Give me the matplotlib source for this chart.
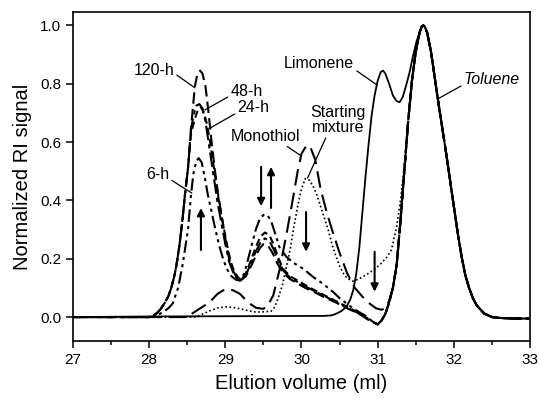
import matplotlib
matplotlib.use("Agg")
import matplotlib.pyplot as plt
from matplotlib.ticker import MultipleLocator, FormatStrFormatter

plt.rcParams["font.family"] = ["Liberation Sans", "DejaVu Sans"]

# shared toluene peak (all traces end on it)
tol_x = [31.00, 31.05, 31.10, 31.15, 31.20, 31.25, 31.30, 31.35, 31.40, 31.45,
         31.50, 31.55, 31.58, 31.60, 31.62, 31.65, 31.70, 31.75, 31.80, 31.85,
         31.90, 31.95, 32.00, 32.05, 32.10, 32.15, 32.20, 32.25, 32.30, 32.40,
         32.50, 32.60, 32.80, 33.00]
tol_y = [-0.025, -0.012, 0.010, 0.050, 0.100, 0.180, 0.330, 0.500, 0.670, 0.810,
         0.910, 0.975, 0.997, 1.000, 0.995, 0.975, 0.910, 0.820, 0.730, 0.645,
         0.560, 0.470, 0.380, 0.290, 0.210, 0.145, 0.100, 0.065, 0.040, 0.012,
         0.000, -0.003, -0.005, -0.005]

# Limonene (solid)
lim_x = [27.0, 28.0, 30.30, 30.40, 30.46, 30.52, 30.59, 30.64, 30.68, 30.72,
         30.76, 30.80, 30.84, 30.88, 30.92, 30.96, 31.00, 31.04, 31.07, 31.10,
         31.15, 31.20, 31.25, 31.29, 31.33, 31.38, 31.42, 31.46, 31.51, 31.55]
lim_y = [0.0, 0.002, 0.004, 0.006, 0.012, 0.020, 0.035, 0.060, 0.093, 0.150,
         0.240, 0.360, 0.480, 0.590, 0.690, 0.760, 0.810, 0.840, 0.845, 0.835,
         0.800, 0.760, 0.740, 0.737, 0.755, 0.800, 0.840, 0.890, 0.945, 0.975]

# Starting mixture (dotted)
mix_x = [27.0, 28.6, 28.7, 28.8, 28.9, 29.0, 29.1, 29.2, 29.3, 29.4, 29.5,
         29.6, 29.65, 29.70, 29.75, 29.80, 29.85, 29.90, 29.95, 30.00, 30.05,
         30.10, 30.15, 30.20, 30.25, 30.30, 30.35, 30.40, 30.45, 30.50, 30.55,
         30.60, 30.67, 30.75, 30.85, 30.95, 31.05, 31.12, 31.18, 31.25, 31.30,
         31.35, 31.40]
mix_y = [0.0, 0.0, 0.010, 0.022, 0.031, 0.035, 0.033, 0.028, 0.022, 0.017, 0.018,
         0.020, 0.035, 0.070, 0.110, 0.170, 0.230, 0.310, 0.380, 0.440, 0.475,
         0.470, 0.450, 0.420, 0.380, 0.340, 0.300, 0.250, 0.210, 0.175, 0.150,
         0.133, 0.123, 0.130, 0.145, 0.162, 0.185, 0.205, 0.230, 0.310, 0.400,
         0.520, 0.670]

# Monothiol (long dash)
mono_x = [27.0, 28.5, 28.57, 28.7, 28.79, 28.9, 29.0, 29.1, 29.19, 29.3, 29.4,
          29.5, 29.56, 29.63, 29.71, 29.80, 29.87, 29.95, 30.00, 30.07, 30.12,
          30.18, 30.25, 30.33, 30.40, 30.50, 30.60, 30.70, 30.80, 30.90, 30.98,
          31.05, 31.10, 31.15]
mono_y = [0.0, 0.0, 0.013, 0.035, 0.050, 0.080, 0.096, 0.092, 0.080, 0.050, 0.032,
          0.028, 0.040, 0.075, 0.160, 0.280, 0.380, 0.500, 0.560, 0.590, 0.580,
          0.540, 0.440, 0.360, 0.300, 0.220, 0.150, 0.100, 0.070, 0.045, 0.030,
          0.025, 0.030, 0.055]

# reaction samples: shared front edge
front_x = [27.0, 28.00, 28.05, 28.10, 28.15, 28.20, 28.25, 28.29, 28.33, 28.36,
           28.40, 28.44, 28.47, 28.51]
front_y = [0.0, 0.0, 0.004, 0.013, 0.027, 0.047, 0.070, 0.100, 0.140, 0.180,
           0.250, 0.340, 0.420, 0.510]

h120_x = [28.55, 28.60, 28.63, 28.67, 28.70, 28.74, 28.78, 28.82, 28.86, 28.90,
          28.95, 29.00, 29.05, 29.10, 29.15, 29.20, 29.27, 29.33, 29.40, 29.45,
          29.50, 29.56, 29.62, 29.68, 29.75, 29.85, 29.95, 30.05, 30.15, 30.30,
          30.45, 30.60, 30.75, 30.90]
h120_y = [0.650, 0.790, 0.830, 0.845, 0.835, 0.790, 0.700, 0.600, 0.510, 0.430,
          0.350, 0.270, 0.200, 0.160, 0.135, 0.125, 0.140, 0.170, 0.210, 0.235,
          0.250, 0.245, 0.220, 0.185, 0.155, 0.130, 0.115, 0.100, 0.088, 0.068,
          0.050, 0.030, 0.012, -0.013]

h48_x = [28.55, 28.58, 28.62, 28.66, 28.70, 28.74, 28.78, 28.82, 28.86, 28.90,
         28.95, 29.00, 29.05, 29.10, 29.15, 29.20, 29.27, 29.33, 29.40, 29.46,
         29.52, 29.58, 29.64, 29.70, 29.76, 29.85, 29.95, 30.05, 30.15, 30.30,
         30.45, 30.60, 30.75, 30.90]
h48_y = [0.640, 0.690, 0.725, 0.730, 0.715, 0.670, 0.600, 0.530, 0.460, 0.390,
         0.320, 0.250, 0.190, 0.155, 0.133, 0.125, 0.145, 0.180, 0.225, 0.255,
         0.270, 0.260, 0.230, 0.190, 0.160, 0.135, 0.120, 0.105, 0.092, 0.072,
         0.052, 0.032, 0.013, -0.012]

h24_x = [28.55, 28.60, 28.64, 28.68, 28.72, 28.76, 28.80, 28.84, 28.88, 28.92,
         28.97, 29.02, 29.07, 29.12, 29.17, 29.21, 29.27, 29.33, 29.40, 29.46,
         29.52, 29.58, 29.64, 29.70, 29.76, 29.85, 29.95, 30.05, 30.15, 30.30,
         30.45, 30.60, 30.75, 30.90]
h24_y = [0.630, 0.680, 0.710, 0.720, 0.700, 0.660, 0.600, 0.530, 0.460, 0.390,
         0.320, 0.250, 0.190, 0.155, 0.135, 0.128, 0.150, 0.190, 0.240, 0.275,
         0.290, 0.280, 0.245, 0.200, 0.165, 0.140, 0.125, 0.110, 0.095, 0.075,
         0.055, 0.035, 0.015, -0.010]

h6_x = [27.0, 28.00, 28.10, 28.20, 28.26, 28.31, 28.38, 28.44, 28.51, 28.55,
        28.58, 28.62, 28.65, 28.69, 28.73, 28.77, 28.82, 28.87, 28.92, 28.97,
        29.02, 29.08, 29.14, 29.19, 29.25, 29.30, 29.35, 29.40, 29.45, 29.50,
        29.55, 29.60, 29.65, 29.71, 29.80, 29.90, 29.98, 30.05, 30.15, 30.25,
        30.33, 30.42, 30.50, 30.60, 30.67, 30.75, 30.85, 30.93]
h6_y = [0.0, 0.0, 0.005, 0.020, 0.032, 0.047, 0.100, 0.180, 0.300, 0.420,
        0.490, 0.535, 0.545, 0.530, 0.480, 0.420, 0.360, 0.300, 0.245, 0.200,
        0.165, 0.140, 0.128, 0.125, 0.150, 0.200, 0.250, 0.300, 0.335, 0.350,
        0.350, 0.330, 0.290, 0.240, 0.207, 0.185, 0.173, 0.160, 0.138, 0.120,
        0.104, 0.085, 0.065, 0.045, 0.031, 0.018, 0.003, -0.015]

fig = plt.figure(figsize=(5.39, 3.99), dpi=100)
ax = fig.add_axes([0.1354, 0.1454, 0.8479, 0.8246])

lw = 1.5
ax.plot(lim_x + tol_x[12:], lim_y + tol_y[12:], color="black", lw=1.3, ls="-")
ax.plot(mix_x + tol_x[9:], mix_y + tol_y[9:], color="black", lw=1.2, ls=(0, (1, 1.5)))
ax.plot(mono_x + tol_x[4:], mono_y + tol_y[4:], color="black", lw=lw, ls=(0, (8, 3.5)))
ax.plot(front_x + h120_x + tol_x, front_y + h120_y + tol_y, color="black", lw=lw, ls=(0, (5.5, 2.5)))
ax.plot(front_x + h48_x + tol_x, front_y + h48_y + tol_y, color="black", lw=lw, ls=(0, (7, 2, 2, 2)))
ax.plot(front_x + h24_x + tol_x, front_y + h24_y + tol_y, color="black", lw=lw, ls=(0, (3.5, 2)))
ax.plot(h6_x + tol_x, h6_y + tol_y, color="black", lw=lw, ls=(0, (6, 2, 1.5, 2, 1.5, 2)))

ax.set_xlim(27, 33)
ax.set_ylim(-0.082, 1.046)
ax.xaxis.set_major_locator(MultipleLocator(1))
ax.xaxis.set_minor_locator(MultipleLocator(0.5))
ax.yaxis.set_major_locator(MultipleLocator(0.2))
ax.yaxis.set_major_formatter(FormatStrFormatter("%.1f"))
ax.tick_params(axis="both", which="major", direction="out", length=5, width=1.1,
               labelsize=11, top=False, right=False)
ax.tick_params(axis="x", which="minor", direction="out", length=3, width=1.1)
for s in ax.spines.values():
    s.set_linewidth(1.2)

ax.set_xlabel("Elution volume (ml)", fontsize=14.5, labelpad=5)
ax.set_ylabel("Normalized RI signal", fontsize=14.5, labelpad=6)

lead = dict(arrowstyle="-", lw=0.9, color="black", shrinkA=0, shrinkB=0)
fs = 11.5
ax.annotate("120-h", xy=(28.60, 0.786), xytext=(28.06, 0.844), ha="center", va="center",
            fontsize=fs, arrowprops=dict(lead, relpos=(1.0, 0.35)))
ax.annotate("48-h", xy=(28.73, 0.71), xytext=(29.28, 0.775), ha="center", va="center",
            fontsize=fs, arrowprops=dict(lead, relpos=(0.0, 0.2)))
ax.annotate("24-h", xy=(28.80, 0.648), xytext=(29.37, 0.717), ha="center", va="center",
            fontsize=fs, arrowprops=dict(lead, relpos=(0.0, 0.2)))
ax.annotate("6-h", xy=(28.56, 0.425), xytext=(28.11, 0.49), ha="center", va="center",
            fontsize=fs, arrowprops=dict(lead, relpos=(1.0, 0.2)))
ax.annotate("Monothiol", xy=(30.00, 0.552), xytext=(29.53, 0.62), ha="center", va="center",
            fontsize=fs, arrowprops=dict(lead, relpos=(0.75, 0.0)))
ax.annotate("Starting\nmixture", xy=(30.08, 0.477), xytext=(30.48, 0.676), ha="center",
            va="center", fontsize=fs, linespacing=1.05,
            arrowprops=dict(lead, relpos=(0.3, 0.0)))
ax.annotate("Limonene", xy=(30.99, 0.796), xytext=(30.23, 0.871), ha="center", va="center",
            fontsize=fs, arrowprops=dict(lead, relpos=(1.0, 0.1)))
ax.annotate("Toluene", xy=(31.79, 0.748), xytext=(32.50, 0.813), ha="center", va="center",
            fontsize=fs, style="italic", arrowprops=dict(lead, relpos=(0.0, 0.2)))

arr = dict(arrowstyle="-|>", lw=1.5, color="black", mutation_scale=11, shrinkA=0, shrinkB=0)
ax.annotate("", xy=(28.68, 0.374), xytext=(28.68, 0.23), arrowprops=arr)
ax.annotate("", xy=(29.47, 0.38), xytext=(29.47, 0.515), arrowprops=arr)
ax.annotate("", xy=(29.60, 0.515), xytext=(29.60, 0.374), arrowprops=arr)
ax.annotate("", xy=(30.06, 0.224), xytext=(30.06, 0.36), arrowprops=arr)
ax.annotate("", xy=(30.96, 0.087), xytext=(30.96, 0.224), arrowprops=arr)

fig.savefig("out.png", dpi=100)
